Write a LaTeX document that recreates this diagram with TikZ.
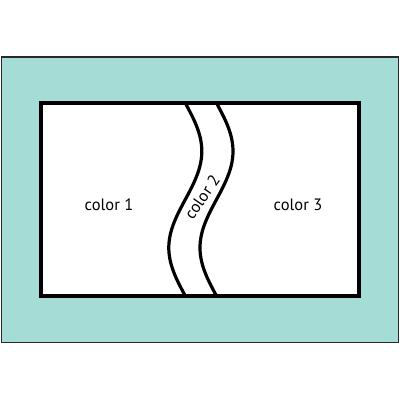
\documentclass[tikz,border=0pt]{standalone}
\usepackage{fontspec}
\setmainfont{PT Sans}
\definecolor{teal1}{RGB}{166,220,214}
\definecolor{edge1}{RGB}{40,40,40}
\begin{document}
\begin{tikzpicture}[x=1pt,y=1pt,
  outer/.style={fill=teal1,draw=edge1,line width=1.2pt},
  inner/.style={fill=white,draw=black,line width=3.4pt},
  wave/.style={draw=black,line width=3.2pt},
  lbl/.style={font=\fontsize{16.5}{19}\selectfont,text=black,inner sep=0pt}]
\useasboundingbox (0,0) rectangle (400,400);
\draw[outer] (1.5,343) rectangle (398.5,57.5);
\draw[inner] (41,297) rectangle (359,104);
\draw[wave] plot[domain=104:297,samples=80,smooth] ({185.3+16.5*sin(1.86528*(297-\x))},\x);
\draw[wave] plot[domain=104:297,samples=80,smooth] ({216.5+16.5*sin(1.86528*(297-\x))},\x);
\draw[inner,fill=none] (41,297) rectangle (359,104);
\node[lbl] (c1) at (109,195) {color 1};
\node[lbl,rotate=55] (c2) at (202,203) {color 2};
\node[lbl] (c3) at (298,195) {color 3};
\end{tikzpicture}
\end{document}
